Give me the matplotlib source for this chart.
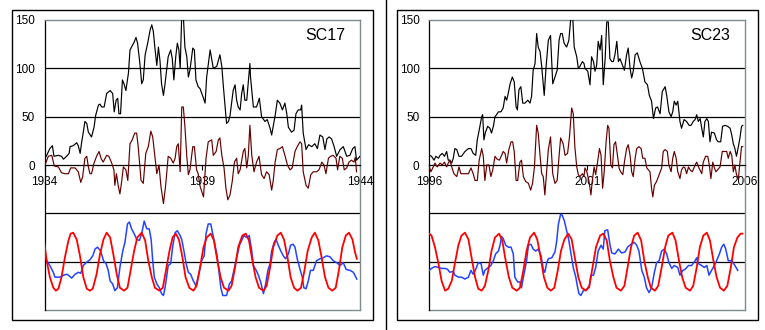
import matplotlib
matplotlib.use("Agg")
import matplotlib.pyplot as plt
from matplotlib.patches import Rectangle
from matplotlib.lines import Line2D
import numpy as np

plt.rcParams['font.family'] = ['Liberation Sans', 'DejaVu Sans']

# ---------------- SC17 : 1934 - 1944 ----------------
sc17_start = 1934
# monthly sunspot number (black)
sc17_black_t = [0.00, 0.07, 0.17, 0.25, 0.30, 0.44, 0.54, 0.60, 0.70, 0.78,
                0.81, 0.91, 1.02, 1.07, 1.13, 1.18, 1.23, 1.28, 1.34, 1.39,
                1.49, 1.57, 1.62, 1.71, 1.76, 1.81, 1.89, 1.97, 2.08, 2.16,
                2.21, 2.27, 2.32, 2.36, 2.41, 2.47, 2.52, 2.58, 2.66, 2.71,
                2.76, 2.84, 2.90, 2.95, 3.03, 3.08, 3.13, 3.19, 3.27, 3.35,
                3.40, 3.45, 3.50, 3.56, 3.61, 3.66, 3.71, 3.77, 3.82, 3.87,
                3.92, 4.00, 4.05, 4.10, 4.16, 4.21, 4.26, 4.30, 4.35, 4.40,
                4.45, 4.51, 4.56, 4.61, 4.70, 4.75, 4.80, 4.87, 4.93,
                5.04, 5.09, 5.14, 5.25, 5.35, 5.46, 5.56, 5.62, 5.67, 5.77,
                5.83, 5.88, 5.98, 6.04, 6.09, 6.14, 6.20, 6.25, 6.30, 6.35,
                6.41, 6.51, 6.53, 6.62, 6.72, 6.81, 6.88, 6.99, 7.06, 7.15,
                7.20, 7.31, 7.38, 7.46, 7.54, 7.62, 7.68, 7.73, 7.83, 7.91,
                7.97, 8.04, 8.12, 8.15, 8.20, 8.29, 8.37, 8.47, 8.57, 8.65,
                8.73, 8.82, 8.89, 8.95, 9.02, 9.10, 9.18, 9.26, 9.37, 9.47,
                9.58, 9.68, 9.77, 9.84, 9.89, 10.00]
sc17_black = [6, 10, 17, 20, 9, 10, 9, 6, 9, 12,
              19, 20, 23, 20, 12, 24, 34, 45, 43, 34,
              29, 39, 51, 62, 63, 60, 60, 74, 77, 74,
              55, 67, 69, 53, 53, 88, 84, 77, 95, 119,
              122, 127, 132, 126, 103, 84, 88, 114, 126, 140,
              145, 138, 121, 103, 122, 108, 84, 72, 84, 98,
              112, 119, 110, 88, 112, 126, 119, 100, 155, 155,
              122, 112, 91, 98, 121, 119, 88, 81, 79,
              69, 64, 91, 119, 100, 102, 114, 102, 81, 43,
              45, 51, 77, 83, 67, 60, 57, 74, 83, 67,
              67, 105, 91, 60, 60, 69, 50, 45, 47, 38,
              31, 51, 67, 64, 57, 64, 53, 39, 34, 36,
              53, 57, 57, 62, 33, 16, 21, 19, 22, 17,
              31, 29, 16, 27, 29, 27, 19, 9, 16, 19,
              9, 10, 17, 19, 5, 9]
# detrended component (dark red)
sc17_maroon_t = [0.00, 0.04, 0.12, 0.23, 0.31, 0.44, 0.54, 0.65, 0.76, 0.83,
                 0.97, 1.07, 1.15, 1.21, 1.28, 1.34, 1.39, 1.44, 1.49, 1.57,
                 1.65, 1.73, 1.79, 1.86, 1.97, 2.04, 2.13, 2.20, 2.23, 2.28,
                 2.34, 2.39, 2.45, 2.50, 2.58, 2.64, 2.71, 2.78, 2.86, 2.92,
                 2.97, 3.06, 3.13, 3.21, 3.29, 3.37, 3.43, 3.50, 3.56, 3.63,
                 3.69, 3.77, 3.84, 3.92, 4.00, 4.08, 4.14, 4.19, 4.24, 4.30,
                 4.35, 4.40, 4.45, 4.51, 4.56, 4.61, 4.70, 4.75, 4.82, 4.87,
                 4.93,
                 5.04, 5.12, 5.19, 5.30, 5.35, 5.44, 5.51, 5.56, 5.62, 5.69,
                 5.75, 5.81, 5.88, 5.95, 6.02, 6.09, 6.14, 6.20, 6.30, 6.35,
                 6.41, 6.46, 6.51, 6.57, 6.64, 6.72, 6.80, 6.88, 6.96, 7.04,
                 7.12, 7.20, 7.25, 7.31, 7.38, 7.46, 7.54, 7.62, 7.70, 7.78,
                 7.85, 7.94, 8.01, 8.10, 8.15, 8.20, 8.29, 8.36, 8.44, 8.52,
                 8.63, 8.70, 8.79, 8.86, 8.92, 9.00, 9.07, 9.15, 9.24, 9.29,
                 9.36, 9.44, 9.50, 9.58, 9.65, 9.73, 9.81, 9.85, 9.89]
sc17_maroon = [0, 2, 9, 10, -1, -2, -8, -9, -9, -3,
               -3, -7, -18, -12, 7, 9, -2, -9, -9, 2,
               9, 14, 7, 3, 10, 9, 2, -5, -21, -9,
               -22, -30, -16, -2, -5, -16, 22, 26, 33, 33,
               19, -16, -19, 12, 19, 35, 29, 9, -9, 0,
               -22, -40, -21, 9, 7, 2, 7, 19, 22, -7,
               60, 60, 40, 9, -10, -5, 19, 19, -5, -9,
               -22,
               -33, 7, 24, 26, 10, 14, 26, 28, 10, -3,
               -24, -36, -31, -17, 3, 7, -9, -5, 14, 17,
               -3, 10, 41, 10, -7, 3, 9, -10, -14, -7,
               -10, -26, -16, 3, 16, 17, 19, 10, 0, -5,
               -3, 14, 19, 24, 22, -7, -21, -24, -10, -7,
               -7, -5, 3, 0, -9, 7, 9, 10, 7, -5,
               9, 7, -5, -3, 3, 5, 3, 8, -7]
# lower chart: model (red) and filtered signal (blue)
sc17_red_t = [0.00, 0.07, 0.17, 0.28, 0.36, 0.44, 0.54, 0.65, 0.76, 0.83,
              0.91, 1.02, 1.13, 1.23, 1.34, 1.44, 1.53, 1.65, 1.76, 1.87,
              1.97, 2.08, 2.18, 2.29, 2.39, 2.52, 2.63, 2.73, 2.84, 2.94,
              3.08, 3.19, 3.29, 3.40, 3.50, 3.64, 3.75, 3.85, 3.96, 4.06,
              4.16, 4.26, 4.37, 4.47, 4.59, 4.72, 4.82, 4.93, 5.04, 5.14,
              5.27, 5.37, 5.48, 5.58, 5.69, 5.83, 5.93, 6.04, 6.14, 6.27,
              6.38, 6.48, 6.59, 6.69, 6.80, 6.94, 7.04, 7.15, 7.25, 7.38,
              7.49, 7.59, 7.70, 7.80, 7.91, 8.02, 8.13, 8.24, 8.34, 8.47,
              8.57, 8.68, 8.78, 8.89, 9.00, 9.12, 9.23, 9.33, 9.44, 9.55,
              9.65, 9.76, 9.84, 9.90]
sc17_red = [18, 1, -16, -27, -30, -28, -16, 5, 22, 29,
            30, 23, 5, -16, -28, -30, -28, -13, 8, 23,
            30, 25, 8, -13, -27, -30, -27, -9, 11, 25,
            30, 22, 1, -16, -27, -30, -27, -9, 11, 25,
            29, 23, 5, -16, -27, -30, -25, -6, 15, 25,
            29, 22, 1, -16, -27, -30, -25, -6, 15, 27,
            29, 22, 1, -16, -27, -30, -25, -6, 15, 27,
            30, 23, 5, -16, -27, -30, -27, -9, 11, 25,
            30, 22, 5, -16, -27, -30, -27, -9, 15, 27,
            30, 23, 10, 3]
sc17_blue_t = [0.00, 0.07, 0.17, 0.28, 0.33, 0.49, 0.60, 0.70, 0.76, 0.86,
               0.97, 1.07, 1.15, 1.23, 1.32, 1.44, 1.53, 1.60, 1.68, 1.78,
               1.87, 1.95, 2.02, 2.08, 2.16, 2.23, 2.31, 2.39, 2.48, 2.55,
               2.63, 2.69, 2.76, 2.87, 2.92, 3.01, 3.08, 3.16, 3.24, 3.32,
               3.38, 3.43, 3.48, 3.56, 3.64, 3.71, 3.77, 3.82, 3.87, 3.92,
               4.00, 4.06, 4.14, 4.21, 4.30, 4.35, 4.42, 4.49, 4.56, 4.63,
               4.72, 4.80, 4.87, 4.98, 5.06, 5.12, 5.19, 5.27, 5.33, 5.40,
               5.48, 5.54, 5.59, 5.65, 5.77, 5.86, 5.93, 6.01, 6.09, 6.18,
               6.25, 6.32, 6.41, 6.49, 6.57, 6.62, 6.71, 6.78, 6.85, 6.94,
               7.01, 7.08, 7.15, 7.20, 7.28, 7.34, 7.41, 7.49, 7.57, 7.64,
               7.73, 7.80, 7.88, 7.94, 8.01, 8.10, 8.17, 8.22, 8.29, 8.36,
               8.43, 8.52, 8.62, 8.73, 8.83, 8.94, 9.05, 9.15, 9.26, 9.37,
               9.47, 9.56, 9.68, 9.79, 9.90]
sc17_blue = [10, 1, -4, -11, -16, -16, -14, -13, -14, -17,
             -13, -11, -12, -4, -1, 2, 6, 13, 15, 11,
             1, -2, -9, -20, -23, -30, -27, -6, 11, 20,
             39, 41, 34, 27, 23, 22, 29, 42, 34, 34,
             23, 1, -16, -23, -27, -33, -35, -27, -16, -4,
             -2, 15, 30, 32, 27, 23, 11, -2, -11, -13,
             -20, -25, -16, 1, 6, 29, 39, 39, 29, 18,
             4, -13, -27, -35, -35, -23, -20, -8, 4, 17,
             22, 27, 25, 27, 11, -4, -9, -14, -21, -33,
             -23, -9, -2, 11, 20, 23, 17, 11, 6, 3,
             8, 17, 18, 15, 3, -8, -16, -27, -28, -20,
             -9, -9, 1, 3, 4, 6, 5, 1, -1, -4,
             -1, -8, -9, -11, -18]

# ---------------- SC23 : 1996 - 2006 ----------------
sc23_start = 1996
sc23_black_t = [0.00, 0.07, 0.15, 0.21, 0.29, 0.34, 0.41, 0.48, 0.55, 0.60,
                0.65, 0.71, 0.76, 0.81, 0.87, 0.94, 1.02, 1.13, 1.24, 1.32,
                1.39, 1.47, 1.52, 1.58, 1.66, 1.69, 1.73, 1.78, 1.85, 1.92,
                1.97, 2.03, 2.08, 2.13, 2.19, 2.27, 2.34, 2.40, 2.45, 2.50,
                2.56, 2.63, 2.69, 2.75, 2.79, 2.84, 2.90, 2.96, 3.03, 3.12,
                3.19, 3.24, 3.29, 3.35, 3.40, 3.45, 3.51, 3.56, 3.64, 3.70,
                3.77, 3.84, 3.91, 3.98, 4.05, 4.11, 4.16, 4.21, 4.27, 4.35,
                4.42, 4.49, 4.54, 4.59, 4.67, 4.72, 4.77, 4.85, 4.90,
                4.93, 5.02, 5.09, 5.14, 5.20, 5.25, 5.30, 5.35, 5.41, 5.46,
                5.51, 5.57, 5.62, 5.67, 5.72, 5.78, 5.83, 5.88, 5.94, 5.99,
                6.04, 6.12, 6.18, 6.25, 6.30, 6.36, 6.41, 6.46, 6.52, 6.59,
                6.67, 6.75, 6.83, 6.91, 6.97, 7.04, 7.10, 7.17, 7.23, 7.31,
                7.38, 7.47, 7.52, 7.59, 7.66, 7.71, 7.76, 7.82, 7.87, 7.94,
                7.99, 8.07, 8.15, 8.23, 8.29, 8.36, 8.42, 8.47, 8.52, 8.58,
                8.63, 8.68, 8.73, 8.79, 8.84, 8.89, 8.94, 9.03, 9.10, 9.15,
                9.23, 9.29, 9.37, 9.45, 9.53, 9.58, 9.63, 9.68, 9.73, 9.79,
                9.84, 9.89, 9.93]
sc23_black = [10, 9, 5, 9, 7, 10, 12, 9, 14, 5,
              5, 2, 7, 17, 16, 9, 9, 14, 17, 17,
              12, 10, 26, 36, 50, 52, 26, 34, 40, 38,
              33, 40, 50, 52, 55, 55, 59, 71, 67, 74,
              84, 91, 86, 60, 57, 78, 81, 64, 64, 67,
              64, 71, 98, 105, 136, 122, 117, 102, 72, 102,
              129, 134, 84, 91, 98, 129, 136, 136, 126, 122,
              129, 155, 155, 122, 112, 100, 102, 107, 105,
              100, 97, 83, 112, 107, 97, 103, 128, 119, 134,
              83, 110, 148, 148, 110, 107, 107, 114, 128, 107,
              110, 103, 98, 114, 121, 100, 90, 97, 114, 116,
              107, 100, 86, 83, 72, 66, 48, 59, 60, 53,
              76, 81, 72, 55, 50, 55, 66, 62, 66, 45,
              38, 47, 45, 41, 41, 45, 47, 52, 45, 48,
              38, 29, 45, 48, 45, 24, 34, 33, 26, 24,
              24, 40, 41, 40, 38, 31, 22, 17, 9, 19,
              28, 40, 41]
sc23_maroon_t = [0.00, 0.05, 0.11, 0.18, 0.25, 0.34, 0.41, 0.48, 0.55, 0.60,
                 0.65, 0.71, 0.78, 0.87, 0.94, 1.00, 1.13, 1.24, 1.32, 1.39,
                 1.45, 1.52, 1.58, 1.66, 1.71, 1.76, 1.82, 1.89, 1.95, 2.01,
                 2.08, 2.15, 2.22, 2.29, 2.34, 2.40, 2.45, 2.52, 2.59, 2.64,
                 2.69, 2.75, 2.80, 2.87, 2.92, 2.98, 3.05, 3.14, 3.21, 3.27,
                 3.33, 3.40, 3.45, 3.51, 3.56, 3.61, 3.66, 3.72, 3.77, 3.84,
                 3.91, 3.98, 4.05, 4.11, 4.16, 4.24, 4.30, 4.38, 4.44, 4.51,
                 4.56, 4.61, 4.67, 4.72, 4.77, 4.85, 4.90,
                 4.93, 4.99, 5.06, 5.12, 5.16, 5.22, 5.27, 5.33, 5.39, 5.44,
                 5.49, 5.54, 5.60, 5.65, 5.69, 5.75, 5.80, 5.85, 5.90, 5.96,
                 6.01, 6.06, 6.13, 6.18, 6.25, 6.30, 6.36, 6.41, 6.46, 6.52,
                 6.57, 6.64, 6.71, 6.76, 6.83, 6.89, 6.94, 6.99, 7.04, 7.08,
                 7.13, 7.20, 7.28, 7.36, 7.41, 7.47, 7.54, 7.59, 7.66, 7.71,
                 7.76, 7.82, 7.87, 7.94, 7.99, 8.05, 8.10, 8.15, 8.21, 8.26,
                 8.33, 8.42, 8.47, 8.54, 8.63, 8.68, 8.75, 8.82, 8.87, 8.92,
                 8.98, 9.03, 9.08, 9.13, 9.21, 9.28, 9.35, 9.42, 9.47, 9.53,
                 9.58, 9.63, 9.68, 9.73, 9.79, 9.84, 9.89, 9.93]
sc23_maroon = [-2, -7, -3, 2, -2, 2, 0, 3, -2, 2,
               5, -2, -9, -12, -2, -9, -9, -9, -3, -9,
               -16, -16, 5, 17, 9, -16, 0, 0, -12, -5,
               9, 6, 5, 10, 14, 12, 2, 16, 24, 24,
               14, -16, -16, 3, 5, -12, -17, -19, -26, -19,
               -2, 41, 33, 9, -9, -12, -31, -5, 16, 29,
               -9, -19, -16, 9, 28, 22, 10, 12, 29, 59,
               53, 19, -2, -10, -12, -9, -12,
               -3, -7, -17, -31, -17, -2, -10, 3, 17, 10,
               -24, -7, 24, 41, 38, 0, -3, 21, 24, 10,
               -3, -7, -10, 3, 17, 21, 10, -7, -12, 7,
               17, 19, 17, 7, 7, -3, -5, -7, -24, -33,
               -21, -17, -10, -3, 14, 16, 14, 0, -7, 7,
               14, 7, -7, -14, -5, -2, -3, -9, -2, -5,
               -7, 0, 3, -3, -9, 3, 9, 9, 0, -14,
               3, -3, -7, -5, -2, 14, 14, 14, 7, 14,
               10, -7, 0, -10, -14, 3, 19, 19]
sc23_red_t = [0.00, 0.07, 0.18, 0.29, 0.39, 0.50, 0.60, 0.71, 0.81, 0.92,
              1.02, 1.13, 1.24, 1.34, 1.45, 1.55, 1.66, 1.76, 1.87, 1.97,
              2.08, 2.21, 2.31, 2.42, 2.52, 2.63, 2.77, 2.87, 2.98, 3.08,
              3.19, 3.32, 3.42, 3.53, 3.63, 3.74, 3.85, 3.96, 4.07, 4.17,
              4.28, 4.40, 4.51, 4.61, 4.72, 4.83, 4.96, 5.07, 5.17, 5.28,
              5.41, 5.51, 5.62, 5.72, 5.83, 5.93, 6.07, 6.18, 6.28, 6.39,
              6.49, 6.60, 6.71, 6.81, 6.92, 7.02, 7.15, 7.25, 7.36, 7.47,
              7.57, 7.70, 7.80, 7.91, 8.01, 8.12, 8.26, 8.36, 8.47, 8.57,
              8.68, 8.79, 8.89, 9.00, 9.10, 9.21, 9.33, 9.44, 9.55, 9.65,
              9.76, 9.86, 9.92]
sc23_red = [29, 27, 15, -2, -20, -30, -28, -20, -2, 17,
            27, 30, 23, 4, -16, -28, -30, -25, -9, 11,
            25, 29, 22, 1, -16, -27, -30, -27, -9, 11,
            25, 30, 23, 4, -16, -27, -30, -27, -9, 11,
            23, 29, 23, 4, -16, -27, -30, -25, -6, 15,
            27, 29, 22, 1, -16, -27, -30, -25, -6, 15,
            27, 30, 22, 1, -16, -27, -30, -25, -6, 15,
            27, 30, 22, 1, -16, -27, -30, -25, -6, 15,
            27, 30, 22, 1, -16, -27, -30, -25, -6, 15,
            25, 29, 29]
sc23_blue_t = [0.00, 0.07, 0.18, 0.29, 0.39, 0.50, 0.58, 0.65, 0.76, 0.81,
               0.92, 1.02, 1.13, 1.24, 1.32, 1.39, 1.47, 1.55, 1.64, 1.71,
               1.76, 1.87, 1.95, 2.03, 2.10, 2.19, 2.24, 2.29, 2.34, 2.42,
               2.50, 2.59, 2.66, 2.71, 2.80, 2.87, 2.92, 2.98, 3.03, 3.08,
               3.14, 3.22, 3.29, 3.37, 3.45, 3.54, 3.61, 3.66, 3.72, 3.77,
               3.88, 3.98, 4.03, 4.09, 4.16, 4.21, 4.28, 4.35, 4.42, 4.49,
               4.56, 4.64, 4.70, 4.74, 4.80, 4.88, 4.98, 5.06, 5.12, 5.20,
               5.27, 5.35, 5.44, 5.51, 5.56, 5.65, 5.72, 5.78, 5.88, 5.99,
               6.09, 6.20, 6.28, 6.39, 6.49, 6.57, 6.64, 6.73, 6.81, 6.88,
               6.96, 7.04, 7.13, 7.20, 7.28, 7.36, 7.44, 7.52, 7.59, 7.68,
               7.76, 7.87, 7.94, 8.03, 8.10, 8.21, 8.31, 8.42, 8.47, 8.52,
               8.63, 8.71, 8.79, 8.86, 8.94, 9.03, 9.10, 9.19, 9.26, 9.33,
               9.39, 9.47, 9.58, 9.68, 9.77]
sc23_blue = [-9, -7, -5, -6, -7, -7, -8, -11, -10, -14,
             -16, -16, -18, -16, -9, -13, -8, -1, -2, -14,
             -9, -6, -4, 1, 8, 11, 17, 26, 24, 17,
             15, 15, 8, -16, -21, -21, -27, -16, -8, 1,
             17, 18, 13, 11, 13, 6, -8, -11, -1, 3,
             4, 10, 20, 39, 49, 48, 42, 32, 22, 8,
             -6, -16, -27, -33, -35, -30, -29, -27, -14, -14,
             -6, 11, 17, 13, 32, 33, 18, 9, 8, 13,
             9, 10, 15, 18, 20, 17, 11, -9, -16, -27,
             -32, -27, -11, -1, 1, 11, 13, 8, -1, -7,
             -4, -6, -14, -9, -8, -4, -4, 1, 4, -2,
             -4, -6, -4, -14, -9, -4, 1, 8, 15, 18,
             13, 1, 1, -4, -9]

# ---------------- layout / styling ----------------
y_ticks = [0, 50, 100, 150]
grid_levels = [100, 50, -50, -100]
LOWER_BASE = -100          # the lower chart is drawn around this level
FRAME_GRAY = '#7f8a8a'
MAROON = '#660000'
RED = '#ff0000'
BLUE = '#2244ff'

W, H = 765, 330
fig = plt.figure(figsize=(W / 100, H / 100), dpi=100)
fig.patch.set_facecolor('white')


def px_box(x0, y0, x1, y1):
    # pixel box (top-left origin) -> figure fraction [l, b, w, h]
    return [x0 / W, (H - y1) / H, (x1 - x0) / W, (y1 - y0) / H]


def draw_panel(ax, start, title, black_t, black, mar_t, mar, red_t, red, blue_t, blue):
    ax.set_xlim(start, start + 10)
    ax.set_ylim(-150, 150)
    for g in grid_levels:
        ax.axhline(g, color='black', lw=0.9, zorder=1)
    ax.axhline(-150, color=FRAME_GRAY, lw=1.0, clip_on=False, zorder=1)

    ax.plot(start + np.array(black_t), black, color='black', lw=0.85, zorder=3)
    ax.plot(start + np.array(mar_t), mar, color=MAROON, lw=0.85, zorder=4)
    ax.plot(start + np.array(blue_t), LOWER_BASE + np.array(blue), color=BLUE, lw=1.1, zorder=3)
    ax.plot(start + np.array(red_t), LOWER_BASE + np.array(red), color=RED, lw=1.3, zorder=4)

    ax.spines['bottom'].set_position(('data', 0))
    ax.spines['bottom'].set_color('black')
    ax.spines['bottom'].set_linewidth(0.9)
    ax.spines['left'].set_color('black')
    ax.spines['left'].set_linewidth(0.9)
    for s in ('top', 'right'):
        ax.spines[s].set_color(FRAME_GRAY)
        ax.spines[s].set_linewidth(1.0)

    ax.set_yticks(y_ticks)
    ax.set_xticks([start, start + 5, start + 10])
    ax.set_xticklabels([str(start), str(start + 5), str(start + 10)])
    ax.tick_params(axis='y', length=0, pad=7, labelsize=8.5)
    ax.tick_params(axis='x', length=3.6, width=0.8, pad=4.5, direction='out', labelsize=8.5)

    ax.text(0.891, 0.945, title, transform=ax.transAxes, fontsize=11.5,
            ha='center', va='center', color='black')


ax1 = fig.add_axes(px_box(44.5, 20, 360, 310))
draw_panel(ax1, sc17_start, 'SC17', sc17_black_t, sc17_black, sc17_maroon_t, sc17_maroon,
           sc17_red_t, sc17_red, sc17_blue_t, sc17_blue)

ax2 = fig.add_axes(px_box(429.3, 20, 745, 310))
draw_panel(ax2, sc23_start, 'SC23', sc23_black_t, sc23_black, sc23_maroon_t, sc23_maroon,
           sc23_red_t, sc23_red, sc23_blue_t, sc23_blue)

# outer frames and separator
for x0, x1 in [(12, 373), (396.7, 758.3)]:
    l, b, w, h = px_box(x0, 10, x1, 320)
    fig.add_artist(Rectangle((l, b), w, h, transform=fig.transFigure,
                             fill=False, edgecolor='black', lw=1.0))
fig.add_artist(Line2D([385.5 / W, 385.5 / W], [0, 1], transform=fig.transFigure,
                      color='black', lw=1.0))

fig.savefig('out.png', dpi=100, facecolor='white')
